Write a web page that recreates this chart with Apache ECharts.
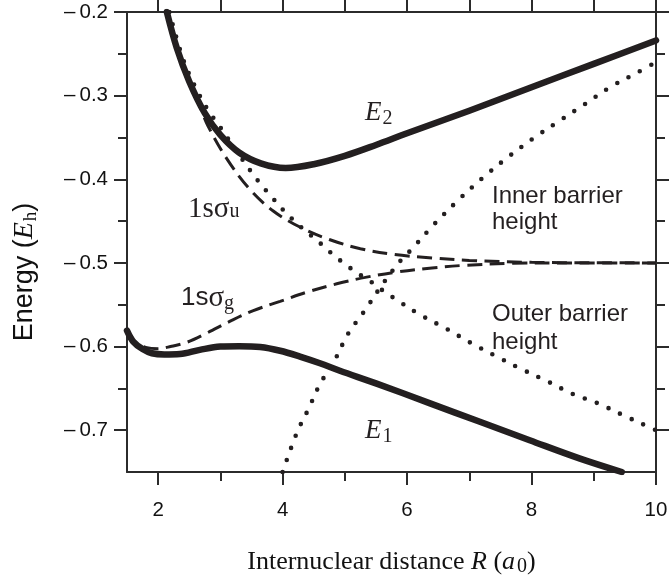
<!DOCTYPE html>
<html>
<head>
<meta charset="utf-8">
<script src="https://cdn.jsdelivr.net/npm/echarts@6.0.0/dist/echarts.min.js"></script>
<style>html,body{margin:0;padding:0;background:#fff;}#c{width:671px;height:582px;}</style>
</head>
<body>
<div id="c"></div>
<script>
// ---- data (x = R in a0, y = energy in Eh) ----
const xMajorTicks = [2, 4, 6, 8, 10];
const xMinorTicks = [3, 5, 7, 9];
const xTopTicks = [2, 3, 4, 5, 6, 7, 8, 9, 10];
const yMajorTicks = [-0.2, -0.3, -0.4, -0.5, -0.6, -0.7];
const yMinorTicks = [-0.25, -0.35, -0.45, -0.55, -0.65];

const E1 = [[1.5,-0.581],[1.6,-0.594],[1.75,-0.603],[1.9,-0.608],[2.1,-0.6095],[2.35,-0.609],[2.67,-0.604],[3.0,-0.600],[3.3,-0.5995],[3.64,-0.6005],[3.96,-0.605],[4.28,-0.612],[4.6,-0.620],[4.92,-0.629],[5.5,-0.644],[6.37,-0.668],[7.17,-0.690],[7.97,-0.712],[8.78,-0.734],[9.45,-0.75]];
const E2 = [[2.14,-0.2],[2.3,-0.243],[2.5,-0.283],[2.75,-0.321],[3.0,-0.347],[3.3,-0.368],[3.65,-0.381],[4.05,-0.3865],[4.5,-0.382],[5.0,-0.372],[5.5,-0.359],[6.0,-0.345],[7.0,-0.318],[8.0,-0.290],[9.0,-0.262],[10,-0.234]];
const sigmaG = [[1.5,-0.583],[1.65,-0.596],[1.8,-0.601],[2.0,-0.6025],[2.2,-0.600],[2.46,-0.595],[2.78,-0.584],[3.15,-0.570],[3.53,-0.557],[3.96,-0.546],[4.39,-0.535],[4.87,-0.525],[5.35,-0.517],[5.83,-0.511],[6.4,-0.506],[6.9,-0.503],[7.7,-0.5005],[8.5,-0.5],[10,-0.5]];
const sigmaU = [[2.13,-0.2],[2.3,-0.244],[2.5,-0.284],[2.65,-0.309],[2.8,-0.336],[3.1,-0.375],[3.45,-0.41],[3.85,-0.438],[4.3,-0.458],[4.75,-0.472],[5.25,-0.483],[5.8,-0.490],[6.4,-0.494],[7.0,-0.497],[8.0,-0.4993],[9.0,-0.4998],[10,-0.5]];
const outerBarrier = [[2.18,-0.2],[2.4,-0.256],[2.6,-0.290],[2.8,-0.317],[3.0,-0.338],[3.2,-0.360],[3.34,-0.375],[3.5,-0.3915],[3.66,-0.407],[3.83,-0.4215],[4.0,-0.436],[4.22,-0.452],[4.42,-0.465],[4.63,-0.478],[4.81,-0.490],[5.03,-0.503],[5.24,-0.514],[5.43,-0.523],[5.61,-0.533],[5.83,-0.544],[6.21,-0.562],[6.64,-0.579],[7.01,-0.595],[7.44,-0.612],[7.84,-0.627],[8.24,-0.641],[8.67,-0.657],[9.07,-0.668],[9.47,-0.682],[9.88,-0.696],[10,-0.700]];
const innerBarrier = [[4.0,-0.75],[4.23,-0.703],[4.42,-0.674],[4.6,-0.645],[4.84,-0.616],[5.05,-0.585],[5.32,-0.557],[5.61,-0.525],[5.91,-0.496],[6.07,-0.484],[6.42,-0.455],[6.85,-0.423],[7.22,-0.398],[7.63,-0.373],[8.03,-0.351],[8.45,-0.330],[8.84,-0.311],[9.26,-0.290],[9.66,-0.274],[10,-0.260]];

// ---- chart ----
const INK = '#231f20';
const AX = '#2b2b2b';
const SANS = 'Liberation Sans, Arial, sans-serif';
const SERIF = 'Liberation Serif, Times New Roman, serif';

function xAx(extra) {
  return Object.assign({
    type: 'value', min: 1.5, max: 10, position: 'bottom',
    axisLine: {show: false}, splitLine: {show: false},
    axisLabel: {show: false}, axisTick: {show: false}
  }, extra);
}
function yAx(extra) {
  return Object.assign({
    type: 'value', min: -0.75, max: -0.2, position: 'left',
    axisLine: {show: false}, splitLine: {show: false},
    axisLabel: {show: false}, axisTick: {show: false}
  }, extra);
}

const lineSolid = {color: INK, width: 6.5, cap: 'round', join: 'round'};
const lineDash = {color: INK, width: 3, type: [15, 7.5]};
const lineDot = {color: INK, width: 4.6, type: [0, 12.8], cap: 'round'};

function mk(name, data, ls) {
  return {name: name, type: 'line', data: data, symbol: 'none', smooth: 0.35,
    lineStyle: ls, xAxisIndex: 0, yAxisIndex: 0, clip: true, silent: true, animation: false};
}

const chart = echarts.init(document.getElementById('c'), null, {renderer: 'canvas'});
chart.setOption({
  animation: false,
  backgroundColor: '#fff',
  grid: {left: 127, right: 15, top: 12, bottom: 100, containLabel: false},
  xAxis: [
    xAx({
      axisLine: {show: true, onZero: false, lineStyle: {color: AX, width: 2}},
      axisTick: {show: true, customValues: xMajorTicks, length: 13, lineStyle: {color: AX, width: 2}},
      axisLabel: {show: true, customValues: xMajorTicks, margin: 28, fontFamily: SANS, fontSize: 20.5, color: '#111'},
      name: '{n|Internuclear distance }{i|R}{n| (}{i|a}{s|0}{n|)}',
      nameLocation: 'middle', nameGap: 75,
      nameTextStyle: {fontFamily: SERIF, fontSize: 26, color: '#111',
        rich: {
          n: {fontFamily: SERIF, fontSize: 26, color: '#111'},
          i: {fontFamily: SERIF, fontStyle: 'italic', fontSize: 26, color: '#111'},
          s: {fontFamily: SERIF, fontSize: 20, color: '#111', padding: [10, 0, 0, 2]}
        }}
    }),
    xAx({
      axisTick: {show: true, customValues: xMinorTicks, length: 9, lineStyle: {color: AX, width: 2}}
    }),
    xAx({
      position: 'top',
      axisLine: {show: true, onZero: false, lineStyle: {color: AX, width: 2}},
      axisTick: {show: true, customValues: xTopTicks, length: 12, lineStyle: {color: AX, width: 2}}
    })
  ],
  yAxis: [
    yAx({
      axisLine: {show: true, onZero: false, lineStyle: {color: AX, width: 2}},
      axisTick: {show: true, customValues: yMajorTicks, length: 13, lineStyle: {color: AX, width: 2}},
      axisLabel: {show: true, customValues: yMajorTicks, margin: 19, fontFamily: SANS, fontSize: 20.5, color: '#111',
        formatter: function (v) { return String(Math.round(v * 10) / 10).replace('-', '\u2013\u2009'); }}
    }),
    yAx({
      axisTick: {show: true, customValues: yMinorTicks, length: 9, lineStyle: {color: AX, width: 2}}
    }),
    yAx({
      position: 'right',
      axisLine: {show: true, onZero: false, lineStyle: {color: AX, width: 2}},
      axisTick: {show: true, customValues: yMajorTicks, length: 13, lineStyle: {color: AX, width: 2}}
    }),
    yAx({
      position: 'right',
      axisTick: {show: true, customValues: yMinorTicks, length: 9, lineStyle: {color: AX, width: 2}}
    })
  ],
  series: [
    mk('Inner barrier height', innerBarrier, lineDot),
    mk('Outer barrier height', outerBarrier, lineDot),
    mk('1s\u03c3g', sigmaG, lineDash),
    mk('1s\u03c3u', sigmaU, lineDash),
    mk('E1', E1, lineSolid),
    mk('E2', E2, lineSolid)
  ],
  graphic: [
    {type: 'text', x: 25, y: 272, rotation: Math.PI / 2,
      style: {text: '{n|Energy (}{i|E}{s|h}{n|)}', align: 'center', verticalAlign: 'middle',
        rich: {
          n: {fontFamily: SANS, fontSize: 27, fill: '#111'},
          i: {fontFamily: SERIF, fontStyle: 'italic', fontSize: 28, fill: '#111'},
          s: {fontFamily: SERIF, fontSize: 19, fill: '#111', padding: [13, 0, 0, 1]}
        }}},
    {type: 'text', x: 365, y: 113,
      style: {text: '{i|E}{s|2}', align: 'left', verticalAlign: 'middle',
        rich: {
          i: {fontFamily: SERIF, fontStyle: 'italic', fontSize: 27, fill: INK},
          s: {fontFamily: SERIF, fontSize: 20, fill: INK, padding: [12, 0, 0, 1]}
        }}},
    {type: 'text', x: 365, y: 431,
      style: {text: '{i|E}{s|1}', align: 'left', verticalAlign: 'middle',
        rich: {
          i: {fontFamily: SERIF, fontStyle: 'italic', fontSize: 27, fill: INK},
          s: {fontFamily: SERIF, fontSize: 20, fill: INK, padding: [12, 0, 0, 1]}
        }}},
    {type: 'text', x: 188, y: 209,
      style: {text: '{n|1s\u03c3}{s|u}', align: 'left', verticalAlign: 'middle',
        rich: {
          n: {fontFamily: SERIF, fontSize: 29, fill: INK},
          s: {fontFamily: SERIF, fontSize: 20, fill: INK, padding: [6, 0, 0, 0]}
        }}},
    {type: 'text', x: 181, y: 298,
      style: {text: '{n|1s}{g|\u03c3}{s|g}', align: 'left', verticalAlign: 'middle',
        rich: {
          n: {fontFamily: SANS, fontSize: 26, fill: INK},
          g: {fontFamily: SERIF, fontSize: 29, fill: INK},
          s: {fontFamily: SERIF, fontSize: 20, fill: INK, padding: [12, 0, 0, 0]}
        }}},
    {type: 'text', x: 492, y: 196,
      style: {text: 'Inner barrier', align: 'left', verticalAlign: 'middle', fontFamily: SANS, fontSize: 24, fill: INK}},
    {type: 'text', x: 492, y: 222,
      style: {text: 'height', align: 'left', verticalAlign: 'middle', fontFamily: SANS, fontSize: 24, fill: INK}},
    {type: 'text', x: 492, y: 314,
      style: {text: 'Outer barrier', align: 'left', verticalAlign: 'middle', fontFamily: SANS, fontSize: 24, fill: INK}},
    {type: 'text', x: 492, y: 342,
      style: {text: 'height', align: 'left', verticalAlign: 'middle', fontFamily: SANS, fontSize: 24, fill: INK}}
  ]
});
</script>
</body>
</html>
